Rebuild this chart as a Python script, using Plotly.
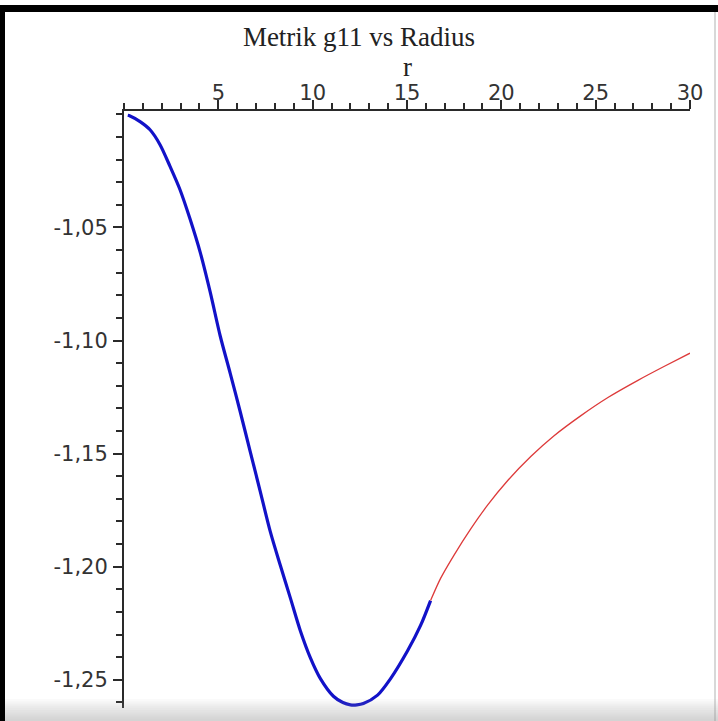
import plotly.graph_objects as go

# ---- data ----
r_blue = [0.2, 0.32, 0.85, 1.38, 1.91, 2.44, 2.97, 3.51, 4.04, 4.57, 5.10, 5.63, 6.16,
          6.69, 7.22, 7.75, 8.28, 8.82, 9.35, 9.88, 10.41, 11.10, 11.6, 12.0, 12.35,
          12.69, 13.44, 14.13, 15.03, 15.72, 16.25]
g_blue = [-1.0004, -1.0007, -1.0032, -1.0068, -1.0134, -1.0230, -1.0333, -1.0465, -1.0610,
          -1.0786, -1.0980, -1.1145, -1.1315, -1.1491, -1.1667, -1.1844, -1.1993, -1.2139,
          -1.2284, -1.2403, -1.2495, -1.2573, -1.2601, -1.2611, -1.2611, -1.2605, -1.2568,
          -1.2495, -1.2372, -1.2260, -1.2150]
r_red = [16.25, 16.78, 17.47, 18.37, 19.28, 20.34, 21.56, 22.78, 24.22, 25.65, 27.24,
         28.62, 30.0]
g_red = [-1.2150, -1.2052, -1.1952, -1.1834, -1.1727, -1.1619, -1.1513, -1.1422, -1.1332,
         -1.1252, -1.1176, -1.1115, -1.1056]

x_ticks = [5, 10, 15, 20, 25, 30]
y_ticks = [-1.05, -1.10, -1.15, -1.20, -1.25]
y_ticktext = ["-1,05", "-1,10", "-1,15", "-1,20", "-1,25"]

title_text = "Metrik g11 vs Radius"
x_label = "r"

# ---- layout geometry ----
W, H = 718, 721
ML, MR, MT, MB = 124, 28, 111, 13
PW, PH = W - ML - MR, H - MT - MB


def px(xp):
    return (xp - ML) / PW


def py(yp):
    return (H - MB - yp) / PH


fig = go.Figure()
fig.add_trace(go.Scatter(x=r_blue, y=g_blue, mode="lines",
                         line=dict(color="#1212c8", width=3.2, shape="spline",
                                   smoothing=0.8),
                         showlegend=False, hoverinfo="skip"))
fig.add_trace(go.Scatter(x=r_red, y=g_red, mode="lines",
                         line=dict(color="#dd3a3a", width=1.3, shape="spline",
                                   smoothing=0.8),
                         showlegend=False, hoverinfo="skip"))

axis_col = "#2a2a2a"
tick_font = dict(family="DejaVu Sans", size=21, color="#333333")

fig.update_layout(
    width=W, height=H,
    margin=dict(l=ML, r=MR, t=MT, b=MB),
    paper_bgcolor="white", plot_bgcolor="white",
    showlegend=False,
    title=dict(text=title_text, x=0.5, xref="container", xanchor="center",
               y=1 - 37 / H, yref="container", yanchor="middle",
               font=dict(family="Liberation Serif", size=27, color="#222222")),
    xaxis=dict(range=[0, 30], side="top", showgrid=False, zeroline=False,
               showline=True, linecolor=axis_col, linewidth=2,
               tickmode="array", tickvals=x_ticks,
               ticks="outside", ticklen=9, tickwidth=1.5, tickcolor=axis_col,
               tickfont=tick_font, ticklabelstandoff=-8,
               minor=dict(dtick=1, tick0=0, ticks="outside", ticklen=6,
                          tickwidth=1.5, tickcolor=axis_col, showgrid=False)),
    yaxis=dict(range=[-1.2625, -0.9985], showgrid=False, zeroline=False,
               showline=True, linecolor=axis_col, linewidth=2,
               tickmode="array", tickvals=y_ticks, ticktext=y_ticktext,
               ticks="outside", ticklen=9, tickwidth=1.5, tickcolor=axis_col,
               tickfont=tick_font, ticklabelstandoff=1,
               minor=dict(dtick=0.01, tick0=-1.0, ticks="outside", ticklen=6,
                          tickwidth=1.5, tickcolor=axis_col, showgrid=False)),
)

fig.add_annotation(text=x_label, xref="paper", yref="paper",
                   x=0.5, y=py(67), xanchor="center", yanchor="middle",
                   showarrow=False,
                   font=dict(family="Liberation Serif", size=27, color="#222222"))

shapes = []
# black frame (screenshot border)
shapes.append(dict(type="rect", xref="paper", yref="paper",
                   x0=px(0), x1=px(W), y0=py(12), y1=py(5),
                   fillcolor="black", line=dict(width=0), layer="above"))
shapes.append(dict(type="rect", xref="paper", yref="paper",
                   x0=px(0), x1=px(5), y0=py(H), y1=py(5),
                   fillcolor="black", line=dict(width=0), layer="above"))
shapes.append(dict(type="rect", xref="paper", yref="paper",
                   x0=px(714), x1=px(716), y0=py(H), y1=py(12),
                   fillcolor="#d8d8d8", line=dict(width=0), layer="above"))
# bottom grey gradient
steps = 10
for i in range(steps):
    y0 = 699 + i * 2.2
    shapes.append(dict(type="rect", xref="paper", yref="paper",
                       x0=px(5), x1=px(W), y0=py(H), y1=py(y0),
                       fillcolor="#9a9a9a", opacity=0.05,
                       line=dict(width=0), layer="above"))
fig.update_layout(shapes=shapes)

fig.write_html("out.html")
